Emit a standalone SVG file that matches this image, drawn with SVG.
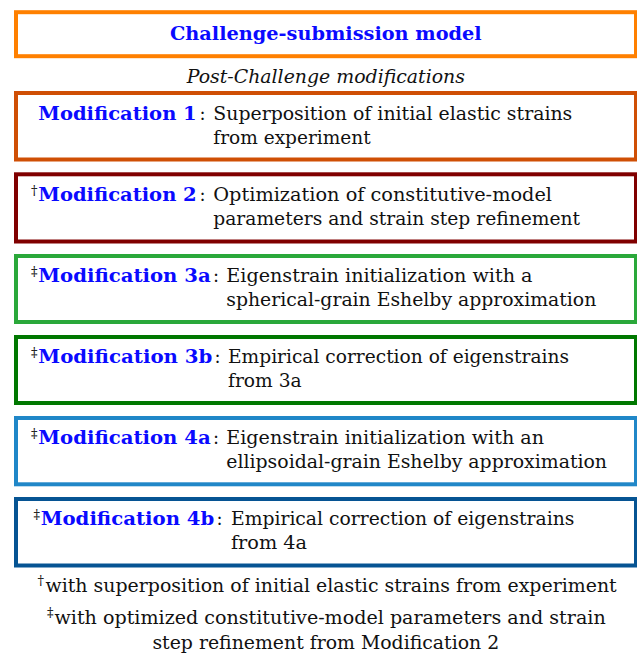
<svg xmlns="http://www.w3.org/2000/svg" width="637" height="655" viewBox="0 0 637 655">
<style>
text{font-family:"DejaVu Serif","Liberation Serif",serif;font-size:18px;fill:#111}
.b{font-weight:bold;fill:#0a0aff}
.i{font-style:italic}
.s{font-size:13px}
rect{fill:#fff;stroke-width:4}
</style>
<rect x="0" y="0" width="637" height="655" style="fill:#fff;stroke:none"/>
<g id="challenge-model">
<rect x="16" y="12.2" width="620" height="44" style="stroke:#ff8000"/>
<text class="b" x="170" y="40" textLength="311.7" lengthAdjust="spacingAndGlyphs">Challenge-submission model</text>
</g>
<g id="post-challenge-label">
<text class="i" x="186.7" y="83.3" textLength="278.3" lengthAdjust="spacingAndGlyphs">Post-Challenge modifications</text>
</g>
<g id="mod1">
<rect x="16" y="93" width="620" height="66.5" style="stroke:#cf4f05"/>
<text class="b" x="38.3" y="120" textLength="158.4" lengthAdjust="spacingAndGlyphs">Modification 1</text>
<text x="199.5" y="120">:</text>
<text x="213.3" y="120" textLength="359" lengthAdjust="spacingAndGlyphs">Superposition of initial elastic strains</text>
<text x="213.3" y="143.5" textLength="157.4" lengthAdjust="spacingAndGlyphs">from experiment</text>
</g>
<g id="mod2">
<rect x="16" y="174.3" width="620" height="67.2" style="stroke:#800000"/>
<text class="s" x="37.5" y="194.5" text-anchor="end">†</text>
<text class="b" x="38.3" y="201" textLength="158.4" lengthAdjust="spacingAndGlyphs">Modification 2</text>
<text x="199.5" y="201">:</text>
<text x="213.3" y="201" textLength="338.7" lengthAdjust="spacingAndGlyphs">Optimization of constitutive-model</text>
<text x="213.3" y="224.5" textLength="366.7" lengthAdjust="spacingAndGlyphs">parameters and strain step refinement</text>
</g>
<g id="mod3a">
<rect x="16" y="256" width="620" height="66" style="stroke:#2aa83a"/>
<text class="s" x="37.5" y="275.5" text-anchor="end">‡</text>
<text class="b" x="38.3" y="282" textLength="172.4" lengthAdjust="spacingAndGlyphs">Modification 3a</text>
<text x="213" y="282">:</text>
<text x="226.3" y="282" textLength="306.2" lengthAdjust="spacingAndGlyphs">Eigenstrain initialization with a</text>
<text x="226.3" y="305.5" textLength="370" lengthAdjust="spacingAndGlyphs">spherical-grain Eshelby approximation</text>
</g>
<g id="mod3b">
<rect x="16" y="337" width="620" height="66" style="stroke:#007800"/>
<text class="s" x="37.5" y="356.5" text-anchor="end">‡</text>
<text class="b" x="38.3" y="363" textLength="174" lengthAdjust="spacingAndGlyphs">Modification 3b</text>
<text x="214.5" y="363">:</text>
<text x="228" y="363" textLength="341" lengthAdjust="spacingAndGlyphs">Empirical correction of eigenstrains</text>
<text x="228" y="386.5" textLength="73.6" lengthAdjust="spacingAndGlyphs">from 3a</text>
</g>
<g id="mod4a">
<rect x="16" y="418" width="620" height="66.3" style="stroke:#2087c8"/>
<text class="s" x="37.5" y="437.5" text-anchor="end">‡</text>
<text class="b" x="38.3" y="444" textLength="172.4" lengthAdjust="spacingAndGlyphs">Modification 4a</text>
<text x="213" y="444">:</text>
<text x="226.3" y="444" textLength="317.7" lengthAdjust="spacingAndGlyphs">Eigenstrain initialization with an</text>
<text x="226.3" y="467.5" textLength="380.7" lengthAdjust="spacingAndGlyphs">ellipsoidal-grain Eshelby approximation</text>
</g>
<g id="mod4b">
<rect x="16" y="499" width="620" height="66.5" style="stroke:#065493"/>
<text class="s" x="40" y="518.5" text-anchor="end">‡</text>
<text class="b" x="40.7" y="525" textLength="173.6" lengthAdjust="spacingAndGlyphs">Modification 4b</text>
<text x="216.5" y="525">:</text>
<text x="231" y="525" textLength="343.4" lengthAdjust="spacingAndGlyphs">Empirical correction of eigenstrains</text>
<text x="231" y="548.5" textLength="76" lengthAdjust="spacingAndGlyphs">from 4a</text>
</g>
<g id="connectors"></g>
<g id="footnotes">
<text class="s" x="44" y="585" text-anchor="end">†</text>
<text x="45.5" y="592" textLength="571.2" lengthAdjust="spacingAndGlyphs">with superposition of initial elastic strains from experiment</text>
<text class="s" x="53.5" y="617" text-anchor="end">‡</text>
<text x="54.5" y="624" textLength="551.2" lengthAdjust="spacingAndGlyphs">with optimized constitutive-model parameters and strain</text>
<text x="152.4" y="649" textLength="346.8" lengthAdjust="spacingAndGlyphs">step refinement from Modification 2</text>
</g>
</svg>
